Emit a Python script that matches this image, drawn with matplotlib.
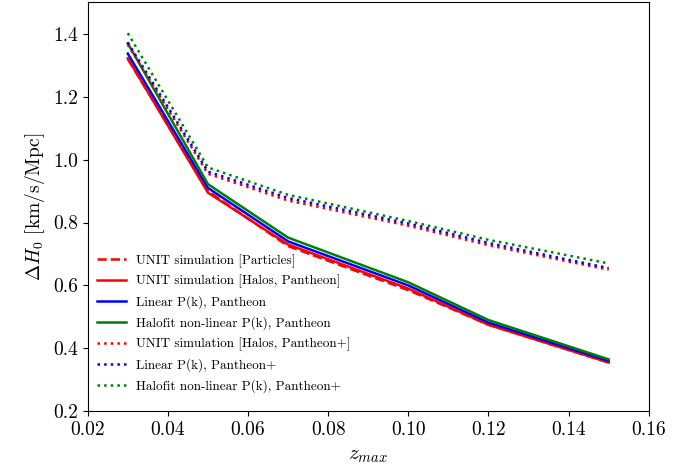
import matplotlib
matplotlib.use("Agg")
import matplotlib.pyplot as plt

plt.rcParams["font.family"] = ["cmr10", "DejaVu Serif"]
plt.rcParams["mathtext.fontset"] = "cm"
plt.rcParams["axes.formatter.use_mathtext"] = True

z_max = [0.03, 0.05, 0.07, 0.10, 0.12, 0.15]

# Pantheon
unit_particles = [1.320, 0.900, 0.725, 0.585, 0.475, 0.355]
unit_halos = [1.322, 0.895, 0.730, 0.590, 0.475, 0.355]
linear_pk = [1.337, 0.910, 0.740, 0.600, 0.482, 0.360]
halofit_pk = [1.370, 0.922, 0.752, 0.610, 0.490, 0.365]

# Pantheon+
unit_halos_plus = [1.365, 0.955, 0.870, 0.790, 0.728, 0.650]
linear_pk_plus = [1.372, 0.962, 0.878, 0.797, 0.735, 0.655]
halofit_pk_plus = [1.402, 0.975, 0.888, 0.805, 0.745, 0.670]

fig = plt.figure(figsize=(6.8, 4.7), dpi=100)
ax = fig.add_axes([0.129, 0.125, 0.825, 0.87])

ax.plot(z_max, unit_particles, color="red", ls="--", lw=1.8, label="UNIT simulation [Particles]")
ax.plot(z_max, unit_halos, color="red", ls="-", lw=1.8, label="UNIT simulation [Halos, Pantheon]")
ax.plot(z_max, linear_pk, color="blue", ls="-", lw=1.8, label="Linear P(k), Pantheon")
ax.plot(z_max, halofit_pk, color="green", ls="-", lw=1.8, label="Halofit non-linear P(k), Pantheon")
ax.plot(z_max, unit_halos_plus, color="red", ls=":", lw=1.8, label="UNIT simulation [Halos, Pantheon+]")
ax.plot(z_max, linear_pk_plus, color="blue", ls=":", lw=1.8, label="Linear P(k), Pantheon+")
ax.plot(z_max, halofit_pk_plus, color="green", ls=":", lw=1.8, label="Halofit non-linear P(k), Pantheon+")

ax.set_xlim(0.02, 0.16)
ax.set_ylim(0.2, 1.5)
ax.set_xticks([0.02, 0.04, 0.06, 0.08, 0.10, 0.12, 0.14, 0.16])
ax.set_yticks([0.2, 0.4, 0.6, 0.8, 1.0, 1.2, 1.4])
ax.set_xticklabels(["0.02", "0.04", "0.06", "0.08", "0.10", "0.12", "0.14", "0.16"])
ax.set_yticklabels(["0.2", "0.4", "0.6", "0.8", "1.0", "1.2", "1.4"])
ax.tick_params(labelsize=14)

ax.set_xlabel(r"$z_{max}$", fontsize=15, labelpad=6)
ax.set_ylabel(r"$\Delta H_0$ [km/s/Mpc]", fontsize=14)

ax.legend(loc="lower left", frameon=False, fontsize=9.5, bbox_to_anchor=(-0.005, 0.015),
          handlelength=2.2, labelspacing=0.55)

fig.savefig("out.png", dpi=100)
